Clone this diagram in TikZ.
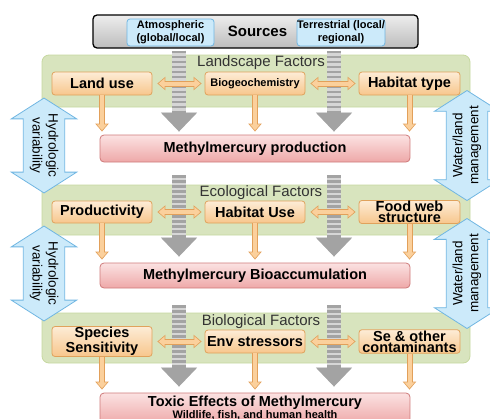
\documentclass[tikz,border=0pt]{standalone}
\usepackage{fontspec}
\setmainfont{Liberation Sans}
\usetikzlibrary{arrows.meta,shapes.arrows}
\definecolor{panelfill}{RGB}{216,228,190}
\definecolor{panelline}{RGB}{198,216,160}
\definecolor{factortop}{RGB}{253,236,214}
\definecolor{factorbot}{RGB}{247,198,140}
\definecolor{factorline}{RGB}{224,162,92}
\definecolor{effecttop}{RGB}{251,226,226}
\definecolor{effectbot}{RGB}{238,168,168}
\definecolor{effectline}{RGB}{206,122,122}
\definecolor{srctop}{RGB}{238,238,238}
\definecolor{srcbot}{RGB}{188,188,188}
\definecolor{skyfill}{RGB}{204,234,250}
\definecolor{skyline}{RGB}{112,182,226}
\definecolor{flowfill}{RGB}{251,208,156}
\definecolor{flowline}{RGB}{226,160,90}

\begin{document}
\begin{tikzpicture}[x=1pt,y=-1pt]
  \tikzset{
    panel/.style={draw=panelline,fill=panelfill,rounded corners=7pt,line width=0.8pt,minimum width=428pt},
    ptitle/.style={font=\fontsize{15}{15}\selectfont,text=black!80},
    factor/.style={draw=factorline,top color=factortop,bottom color=factorbot,rounded corners=3pt,line width=0.8pt,
      minimum width=100pt,minimum height=23pt,inner sep=1pt,align=center,font=\fontsize{14.5}{11}\selectfont\bfseries},
    effect/.style={draw=effectline,top color=effecttop,bottom color=effectbot,rounded corners=4pt,line width=0.8pt,
      minimum width=310pt,inner sep=1pt,align=center,font=\fontsize{14.5}{9}\selectfont\bfseries},
    srcbox/.style={draw=skyline,fill=skyfill,rounded corners=3pt,line width=0.8pt,minimum width=87pt,minimum height=27pt,
      inner sep=0pt,align=center,font=\fontsize{11}{13}\selectfont\bfseries},
    sidearr/.style={double arrow,draw=skyline,fill=skyfill,line width=0.8pt,minimum height=85pt,double arrow head extend=12pt,
      double arrow tip angle=115,inner xsep=2pt,inner ysep=6pt,align=center,font=\fontsize{13.5}{16}\selectfont},
    flow/.style={line width=4pt,draw=flowfill,-{Triangle[width=10pt,length=6pt]},shorten >=4.3pt,
      preaction={draw=flowline,line width=6pt,-{Triangle[width=13pt,length=8pt]},shorten >=3pt}},
    swap/.style={line width=4pt,draw=flowfill,{Triangle[width=10pt,length=6pt]}-{Triangle[width=10pt,length=6pt]},
      shorten <=6.3pt,shorten >=4.3pt,
      preaction={draw=flowline,line width=6pt,{Triangle[width=13pt,length=8pt]}-{Triangle[width=13pt,length=8pt]},
      shorten <=5pt,shorten >=3pt}},
    source/.style={line width=14pt,draw=black!16,-{Triangle[width=35pt,length=19pt]},
      postaction={draw=black!36,dash pattern=on 2.5pt off 2.5pt}},
  }
  \useasboundingbox (0,0) rectangle (490,418);

  % factor panels
  \node[panel,minimum height=52pt] (land) at (256,81) {};
  \node[panel,minimum height=50pt] (eco) at (256,210) {};
  \node[panel,minimum height=50pt] (bio) at (256,338) {};

  % side arrows
  \node[sidearr,rotate=-90] (hyd1) at (44,145.5) {Hydrologic\\variability};
  \node[sidearr,rotate=-90] (hyd2) at (44,273.5) {Hydrologic\\variability};
  \node[sidearr,rotate=90] (wl1) at (467,145.5) {Water/land\\management};
  \node[sidearr,rotate=90] (wl2) at (467,273.5) {Water/land\\management};

  % sources
  \node[draw=black,line width=1.3pt,rounded corners=4pt,top color=srctop,bottom color=srcbot,
    minimum width=325pt,minimum height=33pt,font=\fontsize{15}{15}\selectfont\bfseries] (src) at (255.5,31.5) {\hspace{4pt}Sources};
  \node[srcbox] (atm) at (170.5,32.5) {Atmospheric\\(global/local)};
  \node[srcbox] (ter) at (341,32.5) {Terrestrial (local/\\regional)};

  % factors
  \node[factor] (lu) at (102,83.5) {Land use};
  \node[factor,font=\fontsize{11}{11}\selectfont\bfseries] (bgc) at (255,83.5) {Biogeochemistry};
  \node[factor,minimum width=101pt] (htype) at (409.5,83.5) {Habitat type};
  \node[factor,minimum height=22pt] (prd) at (102,212) {Productivity};
  \node[factor,minimum height=22pt] (huse) at (255,212) {Habitat Use};
  \node[factor,minimum height=22pt,minimum width=101pt,font=\fontsize{14.5}{10.5}\selectfont\bfseries] (fweb) at (409.5,212) {Food web\\structure};
  \node[factor,font=\fontsize{14.5}{11}\selectfont\bfseries] (spsens) at (102,341.5) {Species\\Sensitivity};
  \node[factor] (envst) at (255,341.5) {Env stressors};
  \node[factor,minimum width=101pt] (secont) at (409.5,341.5) {Se \& other\\contaminants};

  % effects
  \node[effect,minimum height=27pt] (prod) at (255,148.5) {Methylmercury production};
  \node[effect,minimum height=25pt] (bacc) at (255,275.5) {Methylmercury Bioaccumulation};
  \node[effect,minimum height=31pt] (tox) at (255,408.5)
    {Toxic Effects of Methylmercury\\{\fontsize{11}{9}\selectfont Wildlife, fish, and human health}};

  % pathways from the sources
  \coordinate (gA) at (179,0);
  \coordinate (gB) at (334,0);
  \foreach \g in {gA,gB} {
    \draw[source,shorten <=2pt,shorten >=3pt] (src.south -| \g) -- (prod.north -| \g);
    \draw[source,shorten <=13pt,shorten >=6pt] (prod.south -| \g) -- (bacc.north -| \g);
    \draw[source,shorten <=17pt,shorten >=6pt] (bacc.south -| \g) -- (tox.north -| \g);
  }

  % links between and out of the factors
  \foreach \a/\b/\c/\e in {lu/bgc/htype/prod,prd/huse/fweb/bacc,spsens/envst/secont/tox} {
    \draw[swap] (\a.east) -- (\b.west);
    \draw[swap] (\b.east) -- (\c.west);
    \foreach \f in {\a,\b,\c}
      \draw[flow] (\f.south) -- (\f.south |- \e.north);
  }

  \node[ptitle] (landlab) at (261,63) {Landscape Factors};
  \node[ptitle] (ecolab) at (261,193) {Ecological Factors};
  \node[ptitle] (biolab) at (261,322) {Biological Factors};
\end{tikzpicture}
\end{document}
